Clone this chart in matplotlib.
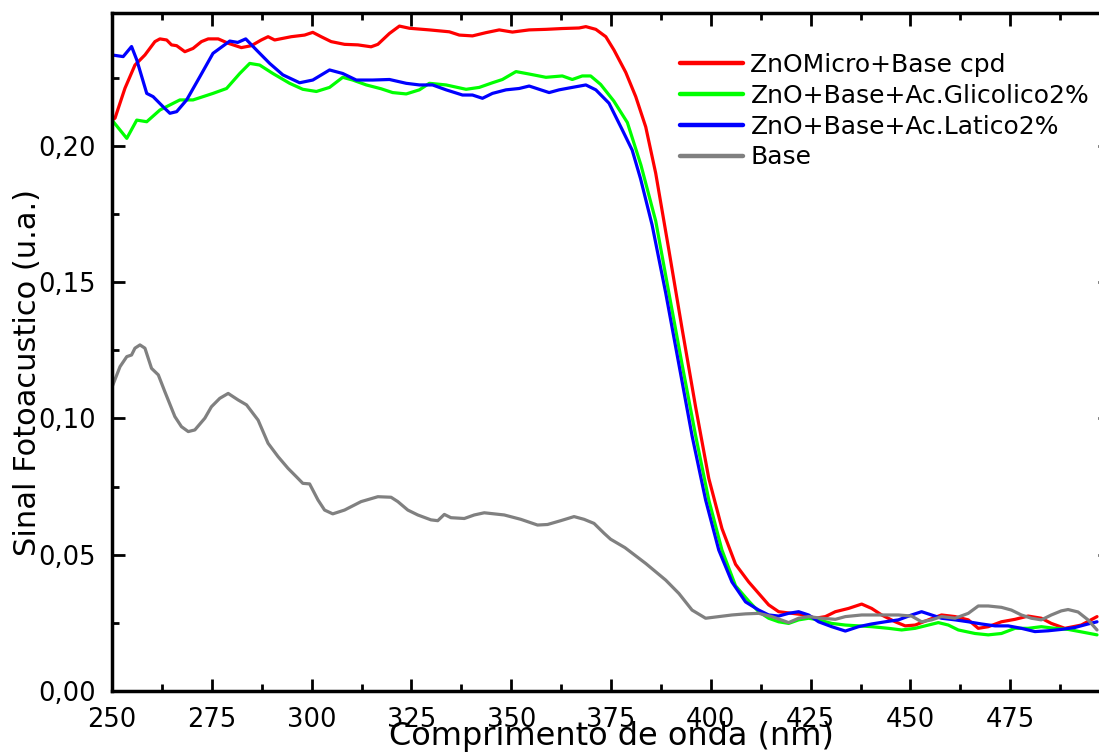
import matplotlib
matplotlib.use("Agg")
import matplotlib.pyplot as plt
from matplotlib.ticker import MultipleLocator, FuncFormatter

# =========================
# DATA
# =========================

red_x = [250.0, 250.75, 253.25, 255.75, 258.25, 260.75, 262.0, 263.7, 264.9, 266.2,
         268.25, 270.3, 272.4, 274.1, 276.6, 279.1, 282.4, 284.9, 287.4, 289.1,
         290.75, 294.9, 298.25, 300.3, 302.4, 304.9, 308.25, 311.6, 314.9, 316.6,
         319.5, 322.0, 324.5, 329.5, 334.5, 337.0, 340.3, 343.7, 347.0, 350.3,
         354.5, 358.7, 362.8, 367.0, 368.7, 371.2, 373.7, 375.75, 378.7, 381.2,
         383.7, 386.2, 389.5, 392.8, 396.2, 399.5, 402.8, 406.2, 409.5, 412.0,
         414.5, 417.0, 420.3, 423.7, 426.2, 428.7, 431.2, 434.5, 437.8, 440.3,
         442.8, 446.2, 448.7, 451.2, 454.5, 457.8, 461.2, 464.5, 467.0, 469.5,
         472.8, 476.2, 479.5, 482.8, 485.3, 488.7, 492.8, 496.75]
red_y = [0.2095, 0.2102, 0.2212, 0.2297, 0.2334, 0.2383, 0.2393, 0.2389, 0.2371, 0.2368,
         0.2346, 0.2358, 0.2383, 0.2393, 0.2393, 0.2377, 0.2361, 0.2368, 0.2389, 0.2401,
         0.2389, 0.2401, 0.2407, 0.2417, 0.2401, 0.2383, 0.2373, 0.2371, 0.2364, 0.2373,
         0.2413, 0.2440, 0.2432, 0.2426, 0.2419, 0.2407, 0.2404, 0.2416, 0.2426, 0.2418,
         0.2426, 0.2428, 0.2431, 0.2433, 0.2438, 0.2428, 0.2401, 0.2352, 0.2270, 0.2181,
         0.2070, 0.1900, 0.1618, 0.1330, 0.1042, 0.0780, 0.0596, 0.0465, 0.0400, 0.0358,
         0.0316, 0.0291, 0.0285, 0.0279, 0.0267, 0.0273, 0.0291, 0.0303, 0.0319, 0.0303,
         0.0279, 0.0254, 0.0239, 0.0242, 0.0261, 0.0279, 0.0273, 0.0261, 0.0230, 0.0236,
         0.0254, 0.0263, 0.0275, 0.0267, 0.0248, 0.0230, 0.0242, 0.0273]

green_x = [250.0, 253.7, 256.2, 258.7, 262.0, 267.0, 270.3, 275.3, 278.7, 282.0,
           284.5, 287.0, 290.3, 294.5, 297.8, 301.2, 304.5, 307.8, 310.3, 313.7,
           317.4, 320.3, 323.7, 327.0, 329.5, 333.7, 338.7, 342.0, 345.3, 347.8,
           351.2, 354.5, 358.7, 362.8, 365.3, 367.8, 369.9, 372.4, 375.7, 379.1,
           382.5, 386.2, 389.5, 392.8, 396.2, 399.5, 402.8, 406.2, 409.5, 412.0,
           414.5, 417.0, 419.5, 422.0, 424.5, 427.0, 430.3, 433.7, 437.0, 440.3,
           444.5, 447.8, 451.2, 454.5, 457.0, 459.5, 462.0, 466.2, 469.5, 472.8,
           476.2, 479.5, 482.8, 486.2, 489.5, 492.8, 496.75]
green_y = [0.2095, 0.2028, 0.2095, 0.2089, 0.2132, 0.2169, 0.2169, 0.2193, 0.2211, 0.2266,
           0.2303, 0.2297, 0.2266, 0.2230, 0.2208, 0.2200, 0.2215, 0.2252, 0.2242, 0.2224,
           0.2210, 0.2196, 0.2191, 0.2206, 0.2230, 0.2224, 0.2208, 0.2215, 0.2232, 0.2244,
           0.2273, 0.2264, 0.2252, 0.2257, 0.2244, 0.2257, 0.2257, 0.2226, 0.2165, 0.2086,
           0.1930, 0.1725, 0.1461, 0.1199, 0.0937, 0.0701, 0.0517, 0.0386, 0.0330, 0.0291,
           0.0267, 0.0254, 0.0248, 0.0261, 0.0267, 0.0261, 0.0248, 0.0242, 0.0239, 0.0236,
           0.0230, 0.0224, 0.0230, 0.0242, 0.0251, 0.0242, 0.0224, 0.0211, 0.0206, 0.0211,
           0.0230, 0.0230, 0.0236, 0.0230, 0.0226, 0.0217, 0.0206]

blue_x = [250.0, 252.8, 254.9, 256.2, 258.7, 260.3, 262.8, 264.5, 266.2, 268.7,
          272.0, 275.3, 279.5, 281.5, 283.5, 286.2, 289.5, 292.8, 297.0, 300.3,
          304.5, 307.8, 311.2, 315.3, 319.5, 323.7, 327.0, 330.3, 333.7, 337.8,
          340.3, 342.8, 345.3, 348.7, 352.0, 354.5, 357.0, 359.5, 362.0, 365.3,
          368.7, 371.2, 374.5, 377.8, 380.3, 382.4, 385.3, 388.7, 392.0, 395.3,
          398.7, 402.0, 405.3, 408.7, 412.0, 414.5, 417.0, 419.5, 422.0, 424.5,
          427.0, 430.3, 433.7, 437.0, 440.3, 443.7, 447.0, 450.3, 452.8, 455.3,
          457.8, 461.2, 464.5, 467.8, 471.2, 474.5, 477.8, 481.2, 484.5, 487.8,
          491.2, 494.5, 496.75]
blue_y = [0.2334, 0.2328, 0.2365, 0.2316, 0.2193, 0.2181, 0.2144, 0.2120, 0.2126, 0.2169,
          0.2254, 0.2340, 0.2385, 0.2380, 0.2393, 0.2352, 0.2303, 0.2261, 0.2232, 0.2242,
          0.2279, 0.2266, 0.2242, 0.2242, 0.2244, 0.2230, 0.2224, 0.2224, 0.2206, 0.2187,
          0.2187, 0.2175, 0.2193, 0.2206, 0.2211, 0.2220, 0.2208, 0.2196, 0.2206, 0.2215,
          0.2224, 0.2206, 0.2157, 0.2060, 0.1985, 0.1880, 0.1710, 0.1461, 0.1199, 0.0937,
          0.0701, 0.0517, 0.0400, 0.0327, 0.0297, 0.0279, 0.0275, 0.0285, 0.0291, 0.0279,
          0.0254, 0.0236, 0.0220, 0.0236, 0.0246, 0.0254, 0.0261, 0.0279, 0.0291, 0.0279,
          0.0267, 0.0261, 0.0254, 0.0246, 0.0239, 0.0239, 0.0230, 0.0218, 0.0221, 0.0226,
          0.0233, 0.0246, 0.0254]

base_x = [250.0, 252.0, 253.7, 254.9, 255.75, 257.0, 258.25, 259.9, 261.6, 263.25,
          265.75, 267.4, 269.1, 270.75, 273.25, 274.9, 277.0, 279.1, 281.6, 283.7,
          286.6, 289.1, 291.6, 294.1, 296.2, 297.8, 299.5, 301.6, 303.25, 305.3,
          308.25, 312.4, 316.6, 319.9, 321.6, 324.1, 326.6, 329.9, 331.6, 333.25,
          334.9, 338.25, 340.75, 343.25, 348.25, 352.4, 356.6, 359.1, 362.4, 365.75,
          368.25, 370.75, 373.25, 374.9, 378.5, 383.7, 388.7, 392.0, 395.3, 398.7,
          402.0, 405.3, 408.7, 412.0, 415.3, 419.5, 422.0, 424.5, 427.8, 431.2,
          433.7, 437.8, 442.8, 447.0, 450.3, 452.8, 455.3, 457.8, 461.2, 464.5,
          467.0, 469.5, 472.8, 475.3, 477.8, 480.3, 482.8, 485.3, 487.8, 489.5,
          492.0, 494.5, 496.75]
base_y = [0.1115, 0.1190, 0.1227, 0.1233, 0.1258, 0.1270, 0.1258, 0.1184, 0.1160, 0.1098,
          0.1007, 0.0970, 0.0952, 0.0958, 0.1001, 0.1043, 0.1074, 0.1092, 0.1068, 0.1050,
          0.0994, 0.0909, 0.0860, 0.0817, 0.0786, 0.0762, 0.0760, 0.0701, 0.0664, 0.0650,
          0.0664, 0.0695, 0.0713, 0.0711, 0.0695, 0.0664, 0.0646, 0.0628, 0.0625, 0.0648,
          0.0636, 0.0633, 0.0646, 0.0654, 0.0646, 0.0630, 0.0609, 0.0611, 0.0625, 0.0640,
          0.0630, 0.0615, 0.0579, 0.0557, 0.0526, 0.0468, 0.0407, 0.0358, 0.0297, 0.0267,
          0.0273, 0.0279, 0.0283, 0.0285, 0.0273, 0.0251, 0.0267, 0.0273, 0.0267, 0.0263,
          0.0273, 0.0279, 0.0279, 0.0279, 0.0275, 0.0254, 0.0261, 0.0273, 0.0267, 0.0285,
          0.0312, 0.0312, 0.0307, 0.0297, 0.0279, 0.0267, 0.0261, 0.0279, 0.0294, 0.0299,
          0.0290, 0.0261, 0.0224]

series = [
    ("ZnOMicro+Base cpd", red_x, red_y, "#ff0000"),
    ("ZnO+Base+Ac.Glicolico2%", green_x, green_y, "#00ff00"),
    ("ZnO+Base+Ac.Latico2%", blue_x, blue_y, "#0000ff"),
    ("Base", base_x, base_y, "#808080"),
]

# =========================
# FIGURE
# =========================

fig = plt.figure(figsize=(10.99, 7.54), dpi=100)

ax = fig.add_axes([112 / 1099, 63 / 754, 998 / 1099, 678 / 754])

for label, xs, ys, color in series:
    ax.plot(xs, ys, color=color, linewidth=2.3, label=label,
            solid_joinstyle="round", solid_capstyle="round")

ax.set_xlim(250, 500)
ax.set_ylim(0, 0.2488)

# ticks
ax.xaxis.set_major_locator(MultipleLocator(25))
ax.xaxis.set_minor_locator(MultipleLocator(12.5))
# the original picture is cut just before the 500 label
ax.xaxis.set_major_formatter(FuncFormatter(lambda v, p: "" if v >= 500 else f"{v:.0f}"))
ax.yaxis.set_major_locator(MultipleLocator(0.05))
ax.yaxis.set_minor_locator(MultipleLocator(0.025))
ax.yaxis.set_major_formatter(FuncFormatter(lambda v, p: f"{v:.2f}".replace(".", ",")))

ax.tick_params(which="both", direction="in", top=True, right=True,
               width=2.0, labelsize=18.5, pad=11.5)
ax.tick_params(which="major", length=9)
ax.tick_params(which="minor", length=5)

for side in ax.spines:
    ax.spines[side].set_linewidth(2.5)

# axis labels (placed by hand, they overlap the tick labels in the original)
fig.text(28 / 1099, 1 - 372 / 754, "Sinal Fotoacustico (u.a.)",
         rotation=90, fontsize=22, ha="center", va="center")
fig.text(611 / 1099, 9 / 754, "Comprimento de onda (nm)",
         fontsize=23, ha="center", va="baseline")

# =========================
# LEGEND
# =========================

leg = ax.legend(loc="upper left", bbox_to_anchor=(680 / 1099, 1 - 53 / 754),
                bbox_transform=fig.transFigure, frameon=False, fontsize=18,
                handlelength=2.5, handletextpad=0.32, labelspacing=0.27,
                borderpad=0, borderaxespad=0)
for line in leg.get_lines():
    line.set_linewidth(3.2)

fig.savefig("out.png", dpi=100)
